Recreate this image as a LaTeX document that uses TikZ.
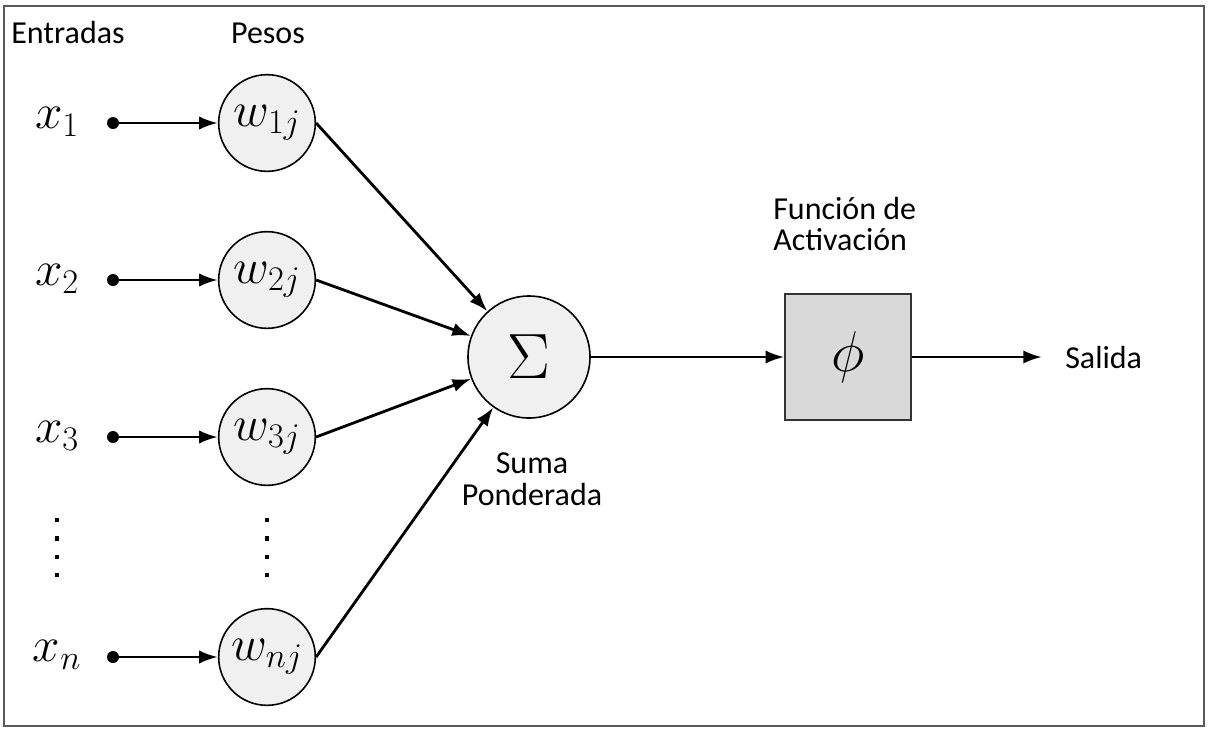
\RequirePackage{fix-cm}
\documentclass[tikz,border=0pt]{standalone}
\usepackage{fontspec}
\setmainfont{Carlito}
\usetikzlibrary{arrows.meta}

\definecolor{cirfill}{HTML}{F0F0F0}
\definecolor{boxfill}{HTML}{D9D9D9}

\begin{document}
\begin{tikzpicture}[>={Latex[length=14pt,width=10pt]}, x=0.75pt, y=-0.75pt,
    txt/.style={font=\fontsize{24}{24}\selectfont, inner sep=0pt},
    mth/.style={font=\fontsize{37}{40}\selectfont, inner sep=0pt},
    wcirc/.style={circle, draw, line width=1.2pt, fill=cirfill, inner sep=0pt,
      minimum size=72.5pt, font=\fontsize{37}{40}\selectfont},
    dot/.style={circle, fill, inner sep=0pt, minimum size=9pt},
    con/.style={->, line width=2.1pt}]
    \useasboundingbox (0,0) rectangle (1211,733);

    % Frame
    \draw[black!65, line width=1.5pt] (4,6) rectangle (1204,726);

    % Column headers
    \node[txt] (entradas) at (68,33) {Entradas};
    \node[txt] (pesos) at (268,33) {Pesos};

    % Inputs
    \node[mth] (x1) at (57,122) {$x_1$};
    \node[mth] (x2) at (57,279) {$x_2$};
    \node[mth] (x3) at (57,436) {$x_3$};
    \node[mth] (xn) at (57,655) {$x_n$};

    \node[dot] (d1) at (113,123) {};
    \node[dot] (d2) at (113,280) {};
    \node[dot] (d3) at (113,437) {};
    \node[dot] (dn) at (113,657) {};

    % Weights
    \node[wcirc] (w1) at (267,123) {$w_{1j}$};
    \node[wcirc] (w2) at (267,280) {$w_{2j}$};
    \node[wcirc] (w3) at (267,437) {$w_{3j}$};
    \node[wcirc] (wn) at (267,657) {$w_{nj}$};

    % Vertical dots
    \draw[line width=3.2pt, dash pattern=on 3.2pt off 10.6pt] (57,518) -- (57,580);
    \draw[line width=3.2pt, dash pattern=on 3.2pt off 10.6pt] (267,518) -- (267,580);

    % Inputs to weights
    \draw[con] (d1) -- (w1);
    \draw[con] (d2) -- (w2);
    \draw[con] (d3) -- (w3);
    \draw[con] (dn) -- (wn);

    % Weighted sum
    \node[wcirc, minimum size=91.5pt, font=\fontsize{48}{50}\selectfont] (sum) at (529,357) {$\Sigma$};
    \node[txt, align=center] (sumlbl) at (532,479) {Suma\\Ponderada};

    \draw[con] (w1.east) -- (sum);
    \draw[con] (w2.east) -- (sum);
    \draw[con] (w3.east) -- (sum);
    \draw[con] (wn.east) -- (sum);

    % Activation function
    \node[draw=black!80, line width=1.2pt, fill=boxfill, minimum size=94.5pt, inner sep=0pt,
      font=\fontsize{43}{45}\selectfont] (phi) at (848,357) {$\phi$};
    \node[txt, align=left, anchor=west] (actlbl) at (773,224) {Función de\\Activación};

    \draw[con] (sum) -- (phi);

    % Output
    \coordinate (fin) at (1042,357);
    \node[txt, anchor=west] (salida) at (1065,357) {Salida};
    \draw[con] (phi) -- (fin);

\end{tikzpicture}
\end{document}
